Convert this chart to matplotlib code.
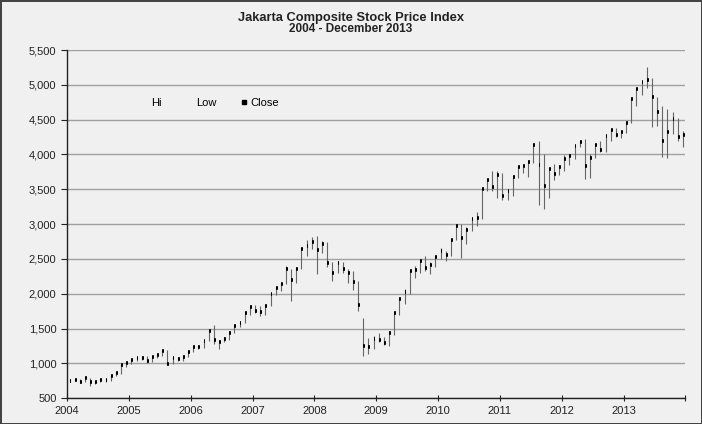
import numpy as np
import matplotlib
matplotlib.use('Agg')
import matplotlib.pyplot as plt
from matplotlib.ticker import FuncFormatter
from matplotlib.lines import Line2D

plt.rcParams['font.family'] = ['Liberation Sans', 'DejaVu Sans']

# Monthly data, Jan 2004 - Dec 2013
years = list(range(2004, 2014))

close = [
    752, 761, 736, 783, 732, 732, 756, 754, 820, 861, 977, 1000,
    1045, 1073, 1080, 1029, 1088, 1122, 1182, 994, 1079, 1066, 1096, 1162,
    1232, 1230, 1323, 1464, 1330, 1310, 1351, 1431, 1534, 1582, 1719, 1805,
    1757, 1741, 1830, 1999, 2084, 2139, 2348, 2194, 2359, 2643, 2688, 2746,
    2627, 2721, 2447, 2304, 2444, 2349, 2304, 2166, 1832, 1256, 1241, 1355,
    1332, 1285, 1434, 1723, 1917, 2027, 2323, 2341, 2468, 2368, 2416, 2534,
    2611, 2549, 2777, 2971, 2797, 2914, 3069, 3082, 3501, 3635, 3531, 3704,
    3410, 3471, 3679, 3820, 3837, 3889, 4131, 3842, 3549, 3791, 3715, 3822,
    3942, 3985, 4122, 4181, 3833, 3956, 4143, 4061, 4263, 4351, 4276, 4317,
    4454, 4796, 4941, 5034, 5069, 4819, 4610, 4196, 4316, 4511, 4256, 4274,
]

high = [
    775, 780, 770, 800, 790, 750, 770, 770, 830, 870, 985, 1005,
    1060, 1080, 1100, 1110, 1090, 1130, 1190, 1190, 1090, 1090, 1100, 1170,
    1240, 1250, 1330, 1480, 1550, 1340, 1380, 1440, 1540, 1590, 1720, 1810,
    1840, 1830, 1840, 2000, 2090, 2160, 2400, 2350, 2370, 2650, 2770, 2810,
    2830, 2750, 2740, 2450, 2470, 2450, 2360, 2320, 2180, 1650, 1370, 1390,
    1440, 1380, 1450, 1730, 1920, 2070, 2330, 2400, 2480, 2540, 2460, 2540,
    2650, 2610, 2790, 2990, 3000, 2960, 3090, 3170, 3510, 3640, 3760, 3760,
    3740, 3480, 3690, 3830, 3850, 3890, 4140, 4200, 4010, 3800, 3860, 3850,
    3990, 4010, 4130, 4200, 4220, 4000, 4150, 4200, 4270, 4360, 4380, 4340,
    4460, 4800, 4950, 5040, 5250, 5100, 4830, 4700, 4650, 4610, 4520, 4330,
]

low = [
    735, 740, 720, 735, 680, 700, 725, 730, 750, 815, 850, 950,
    985, 1040, 1050, 1000, 1020, 1080, 1110, 980, 990, 1030, 1040, 1090,
    1160, 1210, 1220, 1320, 1280, 1200, 1300, 1340, 1430, 1520, 1580, 1700,
    1730, 1680, 1700, 1830, 1980, 2040, 2140, 1900, 2160, 2350, 2540, 2640,
    2290, 2580, 2380, 2180, 2300, 2300, 2150, 2050, 1750, 1110, 1130, 1200,
    1300, 1260, 1250, 1400, 1700, 1850, 2000, 2220, 2300, 2330, 2280, 2380,
    2500, 2470, 2540, 2770, 2520, 2710, 2900, 2970, 3080, 3480, 3480, 3380,
    3340, 3340, 3410, 3660, 3730, 3680, 3880, 3270, 3220, 3380, 3640, 3700,
    3760, 3850, 3930, 4110, 3650, 3660, 3950, 4030, 4040, 4200, 4250, 4230,
    4310, 4450, 4700, 4850, 4960, 4390, 4410, 3970, 3950, 4300, 4200, 4110,
]

y_ticks = list(range(500, 5501, 500))

x = np.array([y + (m + 0.5) / 12 for y in years for m in range(12)])

fig = plt.figure(figsize=(7.02, 4.24), dpi=100)
fig.patch.set_facecolor('#f0f0f0')
fig.patch.set_edgecolor('#444444')
fig.patch.set_linewidth(2)

ax = fig.add_axes([0.0954, 0.061, 0.881, 0.821])
ax.set_facecolor('#f0f0f0')

# grid
for v in y_ticks:
    ax.axhline(v, color='#a0a0a0', linewidth=1.0, zorder=1)

# high-low bars
ax.vlines(x, low, high, color='#666666', linewidth=0.8, zorder=2)
# close ticks
ax.hlines(close, x, x + 0.03, color='black', linewidth=2.6, zorder=3)

ax.set_xlim(2004, 2014)
ax.set_ylim(500, 5500)
ax.set_xticks(list(range(2004, 2015)))
ax.set_xticklabels([str(y) for y in years] + [''])
ax.set_yticks(y_ticks)
ax.yaxis.set_major_formatter(FuncFormatter(lambda v, p: f'{int(v):,}'))
ax.tick_params(axis='both', labelsize=8, colors='#222222', length=4)
ax.tick_params(axis='x', direction='inout', length=5)

for s in ['top', 'right']:
    ax.spines[s].set_visible(False)
for s in ['left', 'bottom']:
    ax.spines[s].set_color('#222222')
    ax.spines[s].set_linewidth(1.0)

fig.text(0.5, 0.958, 'Jakarta Composite Stock Price Index', ha='center',
         va='center', fontsize=9.3, fontweight='bold', color='#222222')
fig.text(0.5, 0.931, '2004 - December 2013', ha='center', va='center',
         fontsize=8.5, fontweight='bold', color='#222222')

handles = [
    Line2D([], [], color='none'),
    Line2D([], [], color='none'),
    Line2D([], [], color='black', marker='s', markersize=2.5, linestyle='none'),
]
ax.legend(handles, ['Hi', 'Low', 'Close'], ncol=3, frameon=False,
          fontsize=8, loc='upper left', bbox_to_anchor=(0.1, 0.89),
          handlelength=1.0, handletextpad=0.1, columnspacing=2.0)

fig.savefig('out.png', dpi=100, facecolor=fig.get_facecolor(),
            edgecolor=fig.get_edgecolor())
